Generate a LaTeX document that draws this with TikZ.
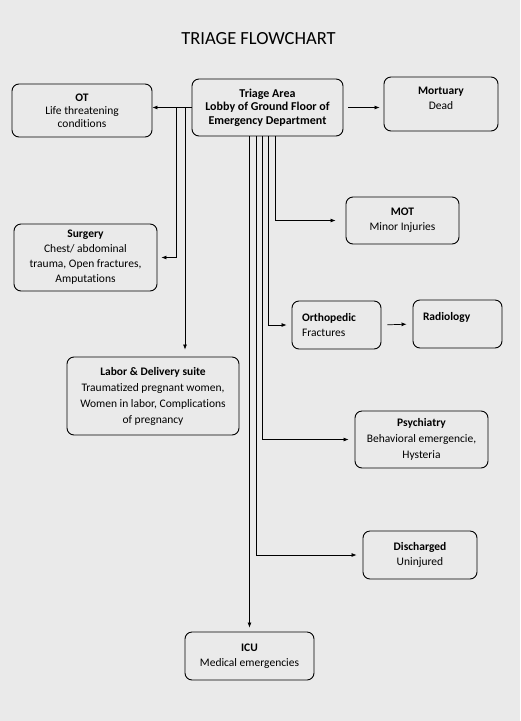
\documentclass[tikz,border=0pt]{standalone}
\usepackage{fontspec}
\setmainfont{Carlito}[Ligatures=NoCommon]
\usetikzlibrary{arrows.meta}
\usetikzlibrary{calc}
\definecolor{paper}{RGB}{234,234,234}

\begin{document}
\begin{tikzpicture}[x=1pt, y=-1pt,
        box/.style = {draw=black, line width=0.9pt, rounded corners=7pt, align=center,
                      inner sep=0pt, font=\fontsize{11.5}{15}\selectfont},
        leftbox/.style = {box, align=left, inner xsep=10pt},
        arr/.style = {line width=0.7pt, -{Latex[length=5pt,width=4pt]}, shorten >=4pt}]
            % page
            \fill[paper] (0,0) rectangle (520,721);
            \useasboundingbox (0,0) rectangle (520,721);
            \node (title) at (258.5,38.5) {\fontsize{18.5}{22}\selectfont TRIAGE FLOWCHART};

            % boxes
            \node[box, minimum width=151pt, minimum height=57pt, font=\fontsize{12}{13.5}\selectfont\bfseries] (triage) at (267.5,107.5)
                {Triage Area\\Lobby of Ground Floor of\\Emergency Department};
            \node[box, minimum width=140pt, minimum height=53pt, font=\fontsize{11.5}{13}\selectfont] (ot) at (82,110.5)
                {\textbf{OT}\\Life threatening\\conditions};
            \node[box, minimum width=114pt, minimum height=54pt] (mort) at (441,104)
                {\textbf{Mortuary}\\Dead\\[-4pt]};
            \node[box, minimum width=143pt, minimum height=67pt] (surg) at (85.5,257.5)
                {\textbf{Surgery}\\Chest/ abdominal\\trauma, Open fractures,\\Amputations};
            \node[box, minimum width=172pt, minimum height=78pt, font=\fontsize{11.5}{16}\selectfont] (labor) at (153,396)
                {\textbf{Labor \& Delivery suite}\\Traumatized pregnant women,\\Women in labor, Complications\\of pregnancy};
            \node[box, minimum width=113pt, minimum height=47pt] (mot) at (402.5,220.5)
                {\textbf{MOT}\\Minor Injuries};
            \node[leftbox, text width=69pt, minimum height=48pt] (orth) at (336.5,325)
                {\textbf{Orthopedic}\\Fractures};
            \node[leftbox, text width=69pt, minimum height=48pt] (rad) at (457.5,324)
                {\textbf{Radiology}\\\mbox{}};
            \node[box, minimum width=133pt, minimum height=57pt, font=\fontsize{11.5}{16}\selectfont] (psy) at (421.5,439.5)
                {\textbf{Psychiatry}\\Behavioral emergencie,\\Hysteria};
            \node[box, minimum width=114pt, minimum height=48pt] (dis) at (420,555)
                {\textbf{Discharged}\\Uninjured};
            \node[box, minimum width=129pt, minimum height=48pt] (icu) at (249.5,656)
                {\textbf{ICU}\\Medical emergencies};

            % branch points on the left line
            \coordinate (jsurg) at (176,107.5);
            \coordinate (jlabor) at (185,107.5);

            % connectors
            \draw[arr, shorten >=0pt] (triage.west) -- (triage.west -| ot.east);
            \draw[arr, shorten <=5pt] (triage.east) -- (triage.east -| mort.west);
            \draw[arr] (jsurg) |- (surg.east);
            \draw[arr, shorten >=7pt] (jlabor) -- (jlabor |- labor.north);
            \draw[arr] ([xshift=-18pt]triage.south) -- (icu.north);
            \draw[arr, shorten >=6pt] ([xshift=-11.5pt]triage.south) |- (dis.west);
            \draw[arr, shorten >=6pt] ([xshift=-5.5pt]triage.south) |- (psy.west);
            \draw[arr, shorten >=5pt] ([xshift=0.5pt]triage.south) |- (orth.west);
            \draw[arr, shorten >=10pt] ([xshift=7.5pt]triage.south) |- (mot.west);
            \draw[arr, shorten <=6pt, shorten >=6pt] (orth.east) -- (rad.west);

        \end{tikzpicture}
\end{document}
